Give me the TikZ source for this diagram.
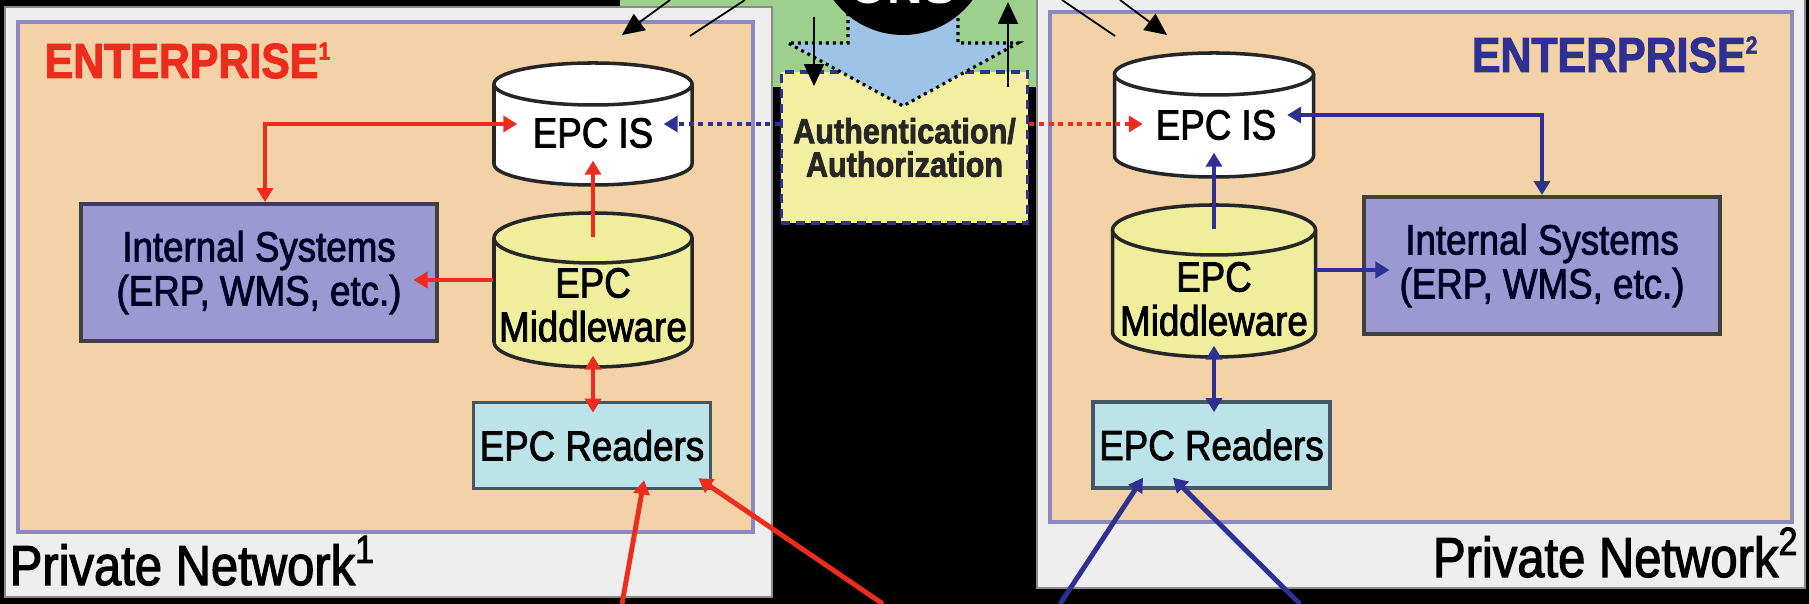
\documentclass[tikz,border=0pt]{standalone}
\usepackage{fontspec}
\setmainfont{Liberation Sans}
\newfontfamily\condfont[FakeStretch=0.87, FakeBold=2]{Liberation Sans}
\usepackage{xcolor}
\usepackage{tikz}
\usetikzlibrary{arrows.meta, positioning, fit, calc}
\definecolor{kred}{HTML}{EE2C1E}
\definecolor{knavy}{HTML}{2E3192}
\definecolor{kbeige}{HTML}{F2D2A6}
\definecolor{kpurple}{HTML}{8E88C2}
\definecolor{kpanel}{HTML}{EEEEEE}
\definecolor{kpanelline}{HTML}{8A8A8A}
\definecolor{kyellow}{HTML}{EEEE9C}
\definecolor{klavender}{HTML}{9C99D2}
\definecolor{kcyan}{HTML}{BDE3EA}
\definecolor{kauth}{HTML}{F3EFA0}
\definecolor{kgreen}{HTML}{9DD08C}
\definecolor{karrow}{HTML}{9DC3E6}
\tikzset{
  lbl/.style={font=\condfont\fontsize{12}{12.5}\selectfont, align=center, inner sep=0pt},
  intbox/.style={lbl, draw=black!75, fill=klavender, line width=1.1pt, minimum width=3.55cm, minimum height=1.37cm, text=black!85!blue},
  rdbox/.style={lbl, draw=black!70!cyan, fill=kcyan, line width=1pt, minimum width=2.37cm, minimum height=0.86cm},
  authbox/.style={draw=knavy, fill=kauth, line width=1.1pt, dash pattern=on 0.09cm off 0.06cm, minimum width=2.37cm, minimum height=1.51cm, align=center, font=\condfont\bfseries\fontsize{10}{9.5}\selectfont, text=black!85},
  cylline/.style={draw=black!85, line width=1pt},
  entlbl/.style={font=\condfont\bfseries\fontsize{14}{16}\selectfont, inner sep=0pt},
  netlbl/.style={font=\condfont\fontsize{16}{18}\selectfont, inner sep=0pt},
  redarr/.style={draw=kred, line width=1.1pt, >={Triangle[width=0.16cm,length=0.14cm]}},
  navyarr/.style={draw=knavy, line width=1.1pt, >={Triangle[width=0.16cm,length=0.14cm]}},
  reddot/.style={redarr, line width=1.4pt, dash pattern=on 0.05cm off 0.045cm},
  navydot/.style={navyarr, line width=1.4pt, dash pattern=on 0.05cm off 0.045cm},
  blackarr/.style={draw=black, line width=0.5pt, -{Triangle[width=0.2cm,length=0.22cm]}}
}
\newcommand{\epccyl}[7]{%
  \fill[#7] ({#2-#5},{#3-#6}) rectangle ({#2+#5},{#4+#6});
  \fill[#7] (#2,{#4+#6}) ellipse [x radius=#5, y radius=#6];
  \draw[cylline] ({#2-#5},{#3-#6}) -- ({#2-#5},{#4+#6})
    arc[start angle=180, end angle=360, x radius=#5, y radius=#6] -- ({#2+#5},{#3-#6});
  \draw[cylline, fill=#7] (#2,{#3-#6}) ellipse [x radius=#5, y radius=#6];
  \node[fit={({#2-#5},#4) ({#2+#5},#3)}, inner sep=0pt] (#1) {};
}
\begin{document}
\begin{tikzpicture}[x=0.01cm, y=0.01cm]
\clip (0,0) rectangle (1809,604);
\fill[black] (0,0) rectangle (1809,604);
\fill[kgreen] (773,517) rectangle (1037,604);
\fill[kgreen] (620,596) rectangle (773,604);
\filldraw[fill=kpanel, draw=kpanelline, line width=0.8pt] (5,7) rectangle (772,597);
\filldraw[fill=kbeige, draw=kpurple, line width=0.9pt] (18,72) rectangle (753,582);
\filldraw[fill=kpanel, draw=kpanelline, line width=0.8pt] (1037,16) rectangle (1805,608);
\filldraw[fill=kbeige, draw=kpurple, line width=0.9pt] (1050,82) rectangle (1792,592);
\node[authbox] (auth) at (904.5,456.5) {Authentication/\\Authorization};
\filldraw[fill=karrow, draw=black, line width=0.9pt, dash pattern=on 0.03cm off 0.04cm]
  (848,640) -- (848,561) -- (788,561) -- (903,498) -- (1018,561) -- (958,561) -- (958,640);
\fill[black] (903,655.5) circle[radius=86.5];
\node[font=\bfseries\fontsize{14}{16}\selectfont, text=white, anchor=base] (ons) at (903,600) {ONS};
\coordinate (onsDn) at (814,587);
\coordinate (onsUp) at (1008,602);
\draw[blackarr, shorten >=-0.16cm] (onsDn) -- (onsDn |- auth.north);
\draw[blackarr] ($(onsUp |- auth.north)+(0,-17)$) -- (onsUp);
\coordinate (tlA1) at (670,604);
\coordinate (tlA2) at (622,569);
\coordinate (tlB1) at (745,604);
\coordinate (tlB2) at (690,568);
\coordinate (trA1) at (1062,604);
\coordinate (trA2) at (1115,568);
\coordinate (trB1) at (1120,604);
\coordinate (trB2) at (1167,569);
\draw[blackarr] (tlA1) -- (tlA2);
\draw[black, line width=0.5pt] (tlB1) -- (tlB2);
\draw[black, line width=0.5pt] (trA1) -- (trA2);
\draw[blackarr] (trB1) -- (trB2);

\node[entlbl, text=kred, anchor=base west] (entL) at (44,526) {ENTERPRISE\textsuperscript{\scriptsize 1}};
\epccyl{isL}{593}{541}{419}{99}{21}{white}
\node[lbl] (isLt) at (593,471) {EPC IS};
\epccyl{mwL}{593}{391}{237}{99}{25}{kyellow}
\node[lbl] (mwLt) at (593,299) {EPC\\Middleware};
\node[intbox] (intL) at (259,331.5) {Internal Systems\\(ERP, WMS, etc.)};
\node[rdbox] (rdL) at (592,158.5) {EPC Readers};
\node[netlbl, anchor=base west] (netL) at (9,19) {Private Network\textsuperscript{1}};

\node[entlbl, text=knavy, anchor=base east] (entR) at (1760,532) {ENTERPRISE\textsuperscript{\scriptsize 2}};
\epccyl{isR}{1214}{551}{427}{99.5}{21}{white}
\node[lbl] (isRt) at (1216,479) {EPC IS};
\epccyl{mwR}{1214}{399}{247}{101.5}{25}{kyellow}
\node[lbl] (mwRt) at (1214,305) {EPC\\Middleware};
\node[intbox] (intR) at (1542,338.5) {Internal Systems\\(ERP, WMS, etc.)};
\node[rdbox] (rdR) at (1211.5,159) {EPC Readers};
\node[netlbl, anchor=base east] (netR) at (1800,27) {Private Network\textsuperscript{2}};

\draw[redarr, <->, shorten >=-0.24cm] ([xshift=0.06cm]intL.north) |- (isL.west);
\draw[redarr, ->] ([yshift=-0.25cm]mwL.north) -- ([yshift=0.25cm]isL.south);
\draw[redarr, ->, shorten >=-0.25cm] ([yshift=0.1cm]mwL.west) -- ([yshift=0.1cm]mwL.west -| intL.east);
\draw[redarr, <->, shorten <=-0.12cm, shorten >=-0.12cm] (mwL.south) -- (mwL.south |- rdL.north);
\coordinate (rfeedA) at (622,0);
\coordinate (rfeedB) at (883,0);
\draw[redarr, line width=1.4pt, ->] (rfeedA) -- ([shift={(0.52cm,0.1cm)}]rdL.south);
\draw[redarr, line width=1.4pt, ->] (rfeedB) -- ([shift={(-0.14cm,0.12cm)}]rdL.south east);

\draw[navyarr, <->, shorten >=-0.27cm] (intR.north) |- (isR.east);
\draw[navyarr, ->] ([yshift=-0.25cm]mwR.north) -- ([yshift=0.25cm]isR.south);
\draw[navyarr, ->, shorten >=-0.27cm] ([yshift=0.11cm]mwR.east) -- ([yshift=0.11cm]mwR.east -| intR.west);
\draw[navyarr, <->, shorten <=-0.12cm, shorten >=-0.12cm] (mwR.south) -- (mwR.south |- rdR.north);
\coordinate (bfeedA) at (1060,0);
\coordinate (bfeedB) at (1300,0);
\draw[navyarr, line width=1.4pt, ->] (bfeedA) -- ([shift={(-0.685cm,0.12cm)}]rdR.south);
\draw[navyarr, line width=1.4pt, ->] (bfeedB) -- ([shift={(-0.385cm,0.12cm)}]rdR.south);

\draw[navydot, ->, shorten >=-0.29cm] (auth.west |- isL.east) -- (isL.east);
\draw[reddot, ->, shorten >=-0.29cm] (auth.east |- isL.east) -- (isL.east -| isR.west);
\end{tikzpicture}
\end{document}
